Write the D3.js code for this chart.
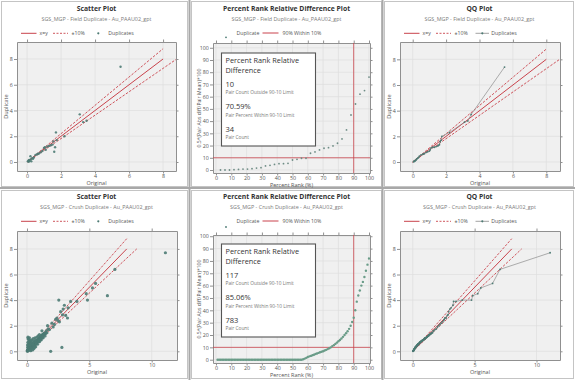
<!DOCTYPE html>
<html><head><meta charset="utf-8">
<script src="https://cdn.jsdelivr.net/npm/d3@7"></script>
<style>body{margin:0;background:#fff;} svg{display:block;font-family:"Open Sans","Noto Sans",sans-serif;}</style>
</head><body><svg id="c" width="575" height="380"></svg>
<script>
// ---------------- DATA ----------------
const fieldOrig = [0.05,0.08,0.1,0.12,0.15,0.2,0.22,0.25,0.3,0.35,0.4,0.5,0.6,0.65,0.7,0.8,0.9,1.0,1.05,1.1,1.2,1.3,1.4,1.5,1.55,1.6,1.65,1.7,1.75,2.2,3.1,3.3,3.5,5.5];
const fieldDup  = [0.05,0.1,0.02,0.15,0.1,0.45,0.2,0.05,0.3,0.25,0.35,0.55,0.6,0.65,0.65,0.75,0.85,1.1,1.15,0.95,1.2,1.25,1.3,1.35,1.6,0.8,1.15,2.3,1.7,2.0,3.7,3.1,3.2,7.4];

const crushOrig = [0.02,0.03,0.05,0.05,0.07,0.08,0.1,0.1,0.12,0.12,0.15,0.15,0.18,0.18,0.2,0.2,0.22,0.22,0.25,0.25,0.28,0.3,0.3,0.32,0.35,0.35,0.38,0.4,0.4,0.42,0.45,0.45,0.48,0.5,0.5,0.52,0.55,0.58,0.6,0.6,0.62,0.65,0.68,0.7,0.72,0.75,0.78,0.8,0.82,0.85,0.88,0.9,0.92,0.95,0.98,1.0,1.02,1.05,1.08,1.1,1.12,1.15,1.18,1.2,1.25,1.28,1.3,1.35,1.38,1.42,1.45,1.5,0.08,0.12,0.15,0.1,0.2,0.25,0.3,0.05,0.08,0.3,0.45,0.55,0.7,0.6,0.05,0.1,0.2,0.35,0.4,0.5,0.65,0.8,0.9,1.0,0.85,1.0,1.15,1.3,1.45,0.15,0.25,0.35,0.45,0.55,0.65,0.75,0.95,1.1,1.25,1.2,1.55,1.6,1.65,1.7,1.8,1.9,2.0,2.1,2.2,2.3,2.4,2.5,2.55,2.6,2.7,2.8,2.85,2.9,3.0,3.1,3.25,3.3,3.5,4.0,4.75,4.85,5.25,5.5,6.45,7.05,11.1];
const crushDup  = [0.03,0.05,0.02,0.08,0.05,0.12,0.06,0.15,0.1,0.3,0.12,0.2,0.15,0.4,0.18,0.25,0.1,0.6,0.22,0.35,0.2,0.28,0.45,0.15,0.3,0.5,0.35,0.4,0.25,0.55,0.42,0.3,0.5,0.45,0.65,0.35,0.55,0.48,0.62,0.75,0.45,0.6,0.7,0.55,0.8,0.7,0.65,0.85,0.75,0.9,0.8,0.95,0.85,1.0,0.9,1.05,0.95,1.1,1.0,1.15,1.2,1.05,1.25,1.15,1.3,1.2,1.35,1.3,1.4,1.35,1.45,1.4,1.1,0.95,0.8,1.0,1.05,0.85,0.7,0.5,0.7,0.05,0.1,0.2,0.35,0.3,0.3,0.45,0.7,0.8,0.9,1.0,1.05,1.1,1.2,1.3,0.55,0.75,0.9,1.05,1.2,0.6,0.5,0.6,0.55,0.75,0.85,0.6,0.75,0.9,1.1,1.6,1.6,1.45,2.0,1.75,1.7,0.0,2.2,1.9,2.1,2.5,2.6,2.4,4.0,2.3,3.1,0.3,2.85,3.3,3.6,2.8,2.6,3.4,3.9,3.9,4.5,4.0,4.95,5.3,4.35,6.4,7.7];

// percent-rank relative difference, 0.5*(|diff|/mean)*100, sorted
const fieldRelDiff = [0,0,0,0.3,0.5,0.8,0.8,1.1,1.6,1.9,3.3,3.8,4.6,5.2,5.2,5.5,8.2,8.7,9.6,9.6,13.7,14.8,16.4,17.8,18.3,19.7,21.9,25.4,32.8,45,54,62,65,76];
// crush: read at each percentile 1..100
const crushRelDiff = [0,0,0,0,0,0,0,0,0,0, 0,0,0,0,0,0,0,0,0,0, 0,0,0,0,0,0,0,0,0,0, 0,0,0,0,0,0,0,0,0,0, 0,0,0,0,0,0,0,0,0,0, 0,0,0,0,0,0,0.4,0.9,1.5,2.2, 2.7,3.1,3.6,4.0,4.6,5.0,5.5,6.0,6.4,6.9, 7.4,8.0,8.6,9.3,10,11,11.8,12.8,13.8,15, 16,17.2,18.5,20,21.5,23,25,27.5,30.5,34, 40,47,52,56,60,63,67,72,77,82];

const statsField = ["10","70.59%","34"];
const statsCrush = ["117","85.06%","783"];
const statLabels = ["Pair Count Outside 90-10 Limit","Pair Percent Within 90-10 Limit","Pair Count"];

const identityLine = [[0,0],[8,8]];
const plus10Line = [[0,0],[8,8.8]];
const minus10Line = [[0,0],[8.8,8]];
const prLimitX = 90, prLimitY = 10;

const ticks8 = [0,2,4,6,8];
const ticks12 = [0,5,10];
const ticks100 = [0,10,20,30,40,50,60,70,80,90,100];

// ---------------- STYLE ----------------
const svg = d3.select("#c");
const RED="#c9434c", PT="#4d7b74", PT2="#6a9c88", GRID="#dedede", BG="#f0f0f0", AX="#909090", TXT="#555";

svg.append("rect").attr("x",0).attr("y",0).attr("width",575).attr("height",380).attr("fill","#fff");

function frame(fx,fy,fw,fh){
  svg.append("rect").attr("x",fx+0.5).attr("y",fy+0.5).attr("width",fw).attr("height",fh)
    .attr("fill","#fff").attr("stroke","#c4c4c4");
}
[[1,1,186,185],[191,1,190,185],[384,1,189,185],[1,190,186,188],[191,190,190,188],[384,190,189,188]]
  .forEach(d=>frame(...d));
[[188.5,0,2,380],[381.5,0,2,380]].forEach(d=>svg.append("rect").attr("x",d[0]).attr("y",d[1]).attr("width",d[2]).attr("height",d[3]).attr("fill","#a8a8a8"));
svg.append("rect").attr("x",0).attr("y",187).attr("width",575).attr("height",2).attr("fill","#a8a8a8");

function plotArea(c){
  const g = svg.append("g");
  const x = d3.scaleLinear().domain(c.xd).range([c.l,c.r]);
  const y = d3.scaleLinear().domain(c.yd).range([c.b,c.t]);
  g.append("text").attr("x",c.cx).attr("y",c.oy+11).attr("text-anchor","middle")
    .attr("font-size",6.8).attr("font-weight","bold").attr("fill","#333").text(c.title);
  g.append("text").attr("x",c.cx).attr("y",c.oy+20.5).attr("text-anchor","middle")
    .attr("font-size",5.4).attr("fill","#7a7a7a").text(c.subtitle);
  g.append("rect").attr("x",c.l).attr("y",c.t).attr("width",c.r-c.l).attr("height",c.b-c.t).attr("fill",BG);
  g.append("g").selectAll("line").data(c.xt).join("line")
    .attr("x1",d=>x(d)).attr("x2",d=>x(d)).attr("y1",c.t).attr("y2",c.b).attr("stroke",GRID).attr("stroke-width",0.7);
  g.append("g").selectAll("line").data(c.yt).join("line")
    .attr("y1",d=>y(d)).attr("y2",d=>y(d)).attr("x1",c.l).attr("x2",c.r).attr("stroke",GRID).attr("stroke-width",0.7);
  const style = s => { s.selectAll("path").attr("stroke",AX); s.selectAll("line").attr("stroke",AX);
    s.selectAll("text").attr("fill",TXT).attr("font-size",5.3).attr("font-family","Open Sans"); };
  g.append("g").attr("transform",`translate(0,${c.b})`).call(d3.axisBottom(x).tickValues(c.xt).tickSize(2.5).tickSizeOuter(0).tickPadding(0.6)).call(style);
  g.append("g").attr("transform",`translate(${c.l},0)`).call(d3.axisLeft(y).tickValues(c.yt).tickSize(3).tickSizeOuter(0).tickPadding(1.2)).call(style);
  g.append("g").attr("transform",`translate(0,${c.t})`).call(d3.axisTop(x).tickValues(c.xt).tickSize(2.5).tickSizeOuter(0).tickFormat("")).call(style);
  g.append("g").attr("transform",`translate(${c.r},0)`).call(d3.axisRight(y).tickValues(c.yt).tickSize(2.5).tickSizeOuter(0).tickFormat("")).call(style);
  g.append("text").attr("x",(c.l+c.r)/2).attr("y",c.b+14).attr("text-anchor","middle").attr("font-size",5.5).attr("fill",TXT).text(c.xlab);
  g.append("text").attr("transform",`translate(${c.l-(c.ylabOff||9.5)},${(c.t+c.b)/2}) rotate(-90)`).attr("text-anchor","middle")
    .attr("font-size",c.ylabSize||5.5).attr("fill",TXT).text(c.ylab);
  const clip = "clip"+Math.round(c.l)+"_"+Math.round(c.t);
  svg.append("clipPath").attr("id",clip).append("rect").attr("x",c.l).attr("y",c.t).attr("width",c.r-c.l).attr("height",c.b-c.t);
  const inner = g.append("g").attr("clip-path",`url(#${clip})`);
  return {g,inner,x,y};
}

function refLines(p){
  const ln = d3.line().x(d=>p.x(d[0])).y(d=>p.y(d[1]));
  p.inner.append("path").attr("d",ln(plus10Line)).attr("fill","none").attr("stroke",RED).attr("stroke-width",0.9).attr("stroke-dasharray","2.5,1.5");
  p.inner.append("path").attr("d",ln(minus10Line)).attr("fill","none").attr("stroke",RED).attr("stroke-width",0.9).attr("stroke-dasharray","2.5,1.5");
  p.inner.append("path").attr("d",ln(identityLine)).attr("fill","none").attr("stroke",RED).attr("stroke-width",1);
}

function legendXY(ox,oy,qq){
  const g = svg.append("g"), ly = oy+33.3;
  g.append("line").attr("x1",ox+21).attr("x2",ox+36.5).attr("y1",ly).attr("y2",ly).attr("stroke",RED).attr("stroke-width",1);
  g.append("text").attr("x",ox+39.5).attr("y",ly+1.8).attr("font-size",5.2).attr("fill",TXT).text("x=y");
  g.append("line").attr("x1",ox+53).attr("x2",ox+68).attr("y1",ly).attr("y2",ly).attr("stroke",RED).attr("stroke-width",0.9).attr("stroke-dasharray","2,1.5");
  g.append("text").attr("x",ox+71.5).attr("y",ly+1.8).attr("font-size",5.2).attr("fill",TXT).text("±10%");
  if(qq){
    g.append("line").attr("x1",ox+92.5).attr("x2",ox+106).attr("y1",ly).attr("y2",ly).attr("stroke","#8a8a8a").attr("stroke-width",0.8);
    g.append("circle").attr("cx",ox+99.3).attr("cy",ly).attr("r",1.1).attr("fill",PT);
  } else {
    g.append("circle").attr("cx",ox+98.3).attr("cy",ly).attr("r",1.1).attr("fill",PT);
  }
  g.append("text").attr("x",ox+108.3).attr("y",ly+1.8).attr("font-size",5.2).attr("fill",TXT).text("Duplicates");
}
function legendPR(ox,oy,dotY){
  const g = svg.append("g"), ly = oy+33;
  g.append("circle").attr("cx",ox+36).attr("cy",oy+dotY).attr("r",0.9).attr("fill",PT);
  g.append("text").attr("x",ox+46.5).attr("y",ly+1.8).attr("font-size",5.2).attr("fill",TXT).text("Duplicate");
  g.append("line").attr("x1",ox+72.5).attr("x2",ox+88.5).attr("y1",ly).attr("y2",ly).attr("stroke",RED).attr("stroke-width",1);
  g.append("text").attr("x",ox+92.5).attr("y",ly+1.8).attr("font-size",5.2).attr("fill",TXT).text("90% Within 10%");
}

function scatterPanel(ox,oy,c,orig,dup,r){
  const p = plotArea(Object.assign({title:"Scatter Plot",xlab:"Original",ylab:"Duplicate",cx:ox+96.5,oy:oy},c));
  refLines(p);
  p.inner.append("g").selectAll("circle").data(d3.range(orig.length)).join("circle")
    .attr("cx",i=>p.x(orig[i])).attr("cy",i=>p.y(dup[i])).attr("r",r).attr("fill",PT).attr("fill-opacity",0.9);
  legendXY(ox,oy,false);
}
function qqPanel(ox,oy,c,orig,dup){
  const p = plotArea(Object.assign({title:"QQ Plot",xlab:"Original",ylab:"Duplicate",cx:ox+96.5,oy:oy},c));
  refLines(p);
  const so = d3.sort(orig), sd = d3.sort(dup);
  const pts = so.map((v,i)=>[v,sd[i]]);
  p.inner.append("path").attr("d",d3.line().x(d=>p.x(d[0])).y(d=>p.y(d[1]))(pts)).attr("fill","none").attr("stroke","#8c8c8c").attr("stroke-width",0.7);
  p.inner.append("g").selectAll("circle").data(pts).join("circle")
    .attr("cx",d=>p.x(d[0])).attr("cy",d=>p.y(d[1])).attr("r",0.9).attr("fill",PT);
  legendXY(ox,oy,true);
}
function prPanel(ox,oy,c,vals,stats,r,col,dotY){
  const p = plotArea(Object.assign({title:"Percent Rank Relative Difference Plot",xlab:"Percent Rank (%)",
    ylab:"0.5*(Pair Abs diff/Pair Mean)*100",ylabOff:12,ylabSize:5.1,cx:ox+96.5,oy:oy},c));
  const n = vals.length;
  p.inner.append("line").attr("x1",p.x(prLimitX)).attr("x2",p.x(prLimitX)).attr("y1",c.t).attr("y2",c.b).attr("stroke",RED).attr("stroke-width",1).attr("stroke-opacity",0.8);
  p.inner.append("line").attr("y1",p.y(prLimitY)).attr("y2",p.y(prLimitY)).attr("x1",c.l).attr("x2",c.r).attr("stroke",RED).attr("stroke-width",1).attr("stroke-opacity",0.8);
  p.inner.append("g").selectAll("circle").data(vals).join("circle")
    .attr("cx",(d,i)=>p.x((i+1)/n*100)).attr("cy",d=>p.y(d)).attr("r",r).attr("fill",col);
  legendPR(ox,oy,dotY);
  const bx = ox+31.5, by = c.boxY, g = svg.append("g");
  g.append("rect").attr("x",bx).attr("y",by).attr("width",94).attr("height",93).attr("fill","#fff").attr("stroke","#555").attr("stroke-width",1.1);
  g.append("text").attr("x",bx+4).attr("y",by+9.5).attr("font-size",7.3).attr("fill","#333").text("Percent Rank Relative");
  g.append("text").attr("x",bx+4).attr("y",by+19.8).attr("font-size",7.3).attr("fill","#333").text("Difference");
  stats.forEach((s,i)=>{
    g.append("text").attr("x",bx+4).attr("y",by+33.5+i*22.5).attr("font-size",7.5).attr("fill","#333").text(s);
    g.append("text").attr("x",bx+4).attr("y",by+41+i*22.5).attr("font-size",4.8).attr("fill","#777").text(statLabels[i]);
  });
}

// ---------------- PANELS ----------------
scatterPanel(0,0,{l:17,t:42,r:176,b:171,xd:[-0.59,8.76],yd:[-0.70,9.32],xt:ticks8,yt:ticks8,
  subtitle:"SGS_MGP - Field Duplicate - Au_PAAU02_gpt"},fieldOrig,fieldDup,1.2);
prPanel(190,0,{l:213,t:43,r:370,b:173,xd:[-1.96,100.65],yd:[-2.45,103.9],xt:ticks100,yt:ticks100,boxY:53,
  subtitle:"SGS_MGP - Field Duplicate - Au_PAAU02_gpt"},fieldRelDiff,statsField,0.9,"#6f8d86",37.3);
qqPanel(383,0,{l:400,t:42,r:560,b:171,xd:[-0.76,8.82],yd:[-0.70,9.35],xt:ticks8,yt:ticks8,
  subtitle:"SGS_MGP - Field Duplicate - Au_PAAU02_gpt"},fieldOrig,fieldDup);

scatterPanel(0,188,{l:17,t:231,r:177,b:360,xd:[-0.8,12.03],yd:[-0.68,9.4],xt:ticks12,yt:ticks8,
  subtitle:"SGS_MGP - Crush Duplicate - Au_PAAU02_gpt"},crushOrig,crushDup,1.6);
prPanel(190,188,{l:213,t:235,r:370,b:363,xd:[-1.96,100.65],yd:[-2.67,101],xt:ticks100,yt:ticks100,boxY:244,
  subtitle:"SGS_MGP - Crush Duplicate - Au_PAAU02_gpt"},crushRelDiff,statsCrush,1.2,PT2,39);
qqPanel(383,188,{l:400,t:231,r:560,b:360,xd:[-1.03,11.9],yd:[-0.68,9.4],xt:ticks12,yt:ticks8,
  subtitle:"SGS_MGP - Crush Duplicate - Au_PAAU02_gpt"},crushOrig,crushDup);
</script></body></html>
